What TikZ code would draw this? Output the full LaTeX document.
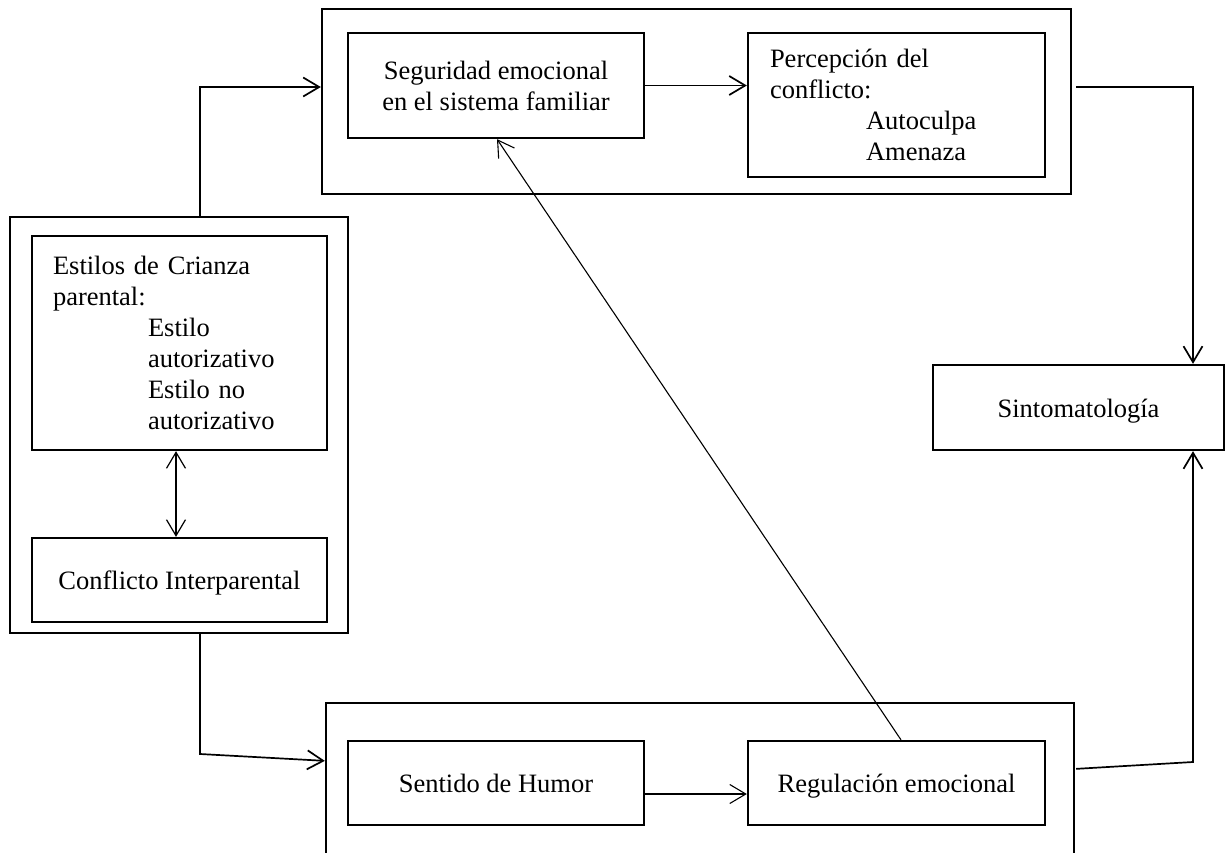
\documentclass[tikz,border=0pt]{standalone}
\usepackage{fontspec}
\setmainfont{Liberation Serif}
\usetikzlibrary{arrows.meta}
\begin{document}
\begin{tikzpicture}[x=1pt,y=-1pt,
  >={Straight Barb[length=16pt,width=19pt]},
  txt/.style={font=\fontsize{26.5pt}{31pt}\selectfont},
  panel/.style={draw,line width=2.3pt,inner sep=0pt},
  box/.style={panel,txt,align=center},
  oneline/.style={box,text height=19pt,text depth=0pt},
  listbox/.style={panel,txt,align=left,text width=253pt,inner ysep=0pt},
  link/.style={->,line width=1.7pt},
  thinlink/.style={->,line width=1.1pt}]
\fill[white] (0,0) rectangle (1227,852);

% group frames (the lower one runs past the bottom edge)
\node[panel,minimum width=749pt,minimum height=185pt] (topC) at (696.5,101.5) {};
\node[panel,minimum width=338pt,minimum height=416pt] (leftC) at (179,425) {};
\node[panel,overlay,minimum width=748pt,minimum height=177pt] (botC) at (700,791.5) {};

% variables
\node[box,minimum width=296pt,minimum height=105pt] (seg) at (496,85.5)
  {Seguridad emocional\\en el sistema familiar};
\node[listbox,inner xsep=22pt,minimum height=144pt] (perc) at (896.5,105)
  {Percepción del\\conflicto:\\\hspace*{96pt}Autoculpa\\\hspace*{96pt}Amenaza};
\node[listbox,inner xsep=21pt,minimum height=214pt] (est) at (179.5,343)
  {Estilos de Crianza\\parental:\\\hspace*{95pt}Estilo\\\hspace*{95pt}autorizativo\\\hspace*{95pt}Estilo no\\\hspace*{95pt}autorizativo};
\node[oneline,minimum width=295pt,minimum height=84pt] (conf) at (179.5,580)
  {Conflicto Interparental};
\node[oneline,minimum width=291pt,minimum height=85pt] (sint) at (1078.5,407.5)
  {Sintomatología};
\node[oneline,minimum width=296pt,minimum height=84pt] (sent) at (496,783)
  {Sentido de Humor};
\node[oneline,minimum width=297pt,minimum height=84pt] (reg) at (896.5,783)
  {Regulación emocional};

% bends
\coordinate (k1) at (200,754);
\coordinate (k2) at (1193,762);

% connectors
\draw[link] ([xshift=21pt]leftC.north) |- ([yshift=14.5pt]topC.west);
\draw[link] (seg.east) -- (seg.east -| perc.west);
\draw[link] ([xshift=4pt,yshift=14.5pt]topC.east) -| ([xshift=114.5pt]sint.north);
\draw[<->,line width=1.2pt] ([xshift=-3.5pt]est.south) -- ([xshift=-3.5pt]conf.north);
\draw[link] ([xshift=21pt]leftC.south) -- (k1) -- ([yshift=-59pt]botC.north west);
\draw[thinlink] ([yshift=-11pt]sent.east) -- ([yshift=-11pt]reg.west);
\draw[thinlink] ([xshift=4.5pt]reg.north) -- ([xshift=1pt]seg.south);
\draw[link] ([xshift=1pt,yshift=-67pt]botC.north east) -- (k2) -- ([xshift=114.5pt]sint.south);
\end{tikzpicture}
\end{document}
